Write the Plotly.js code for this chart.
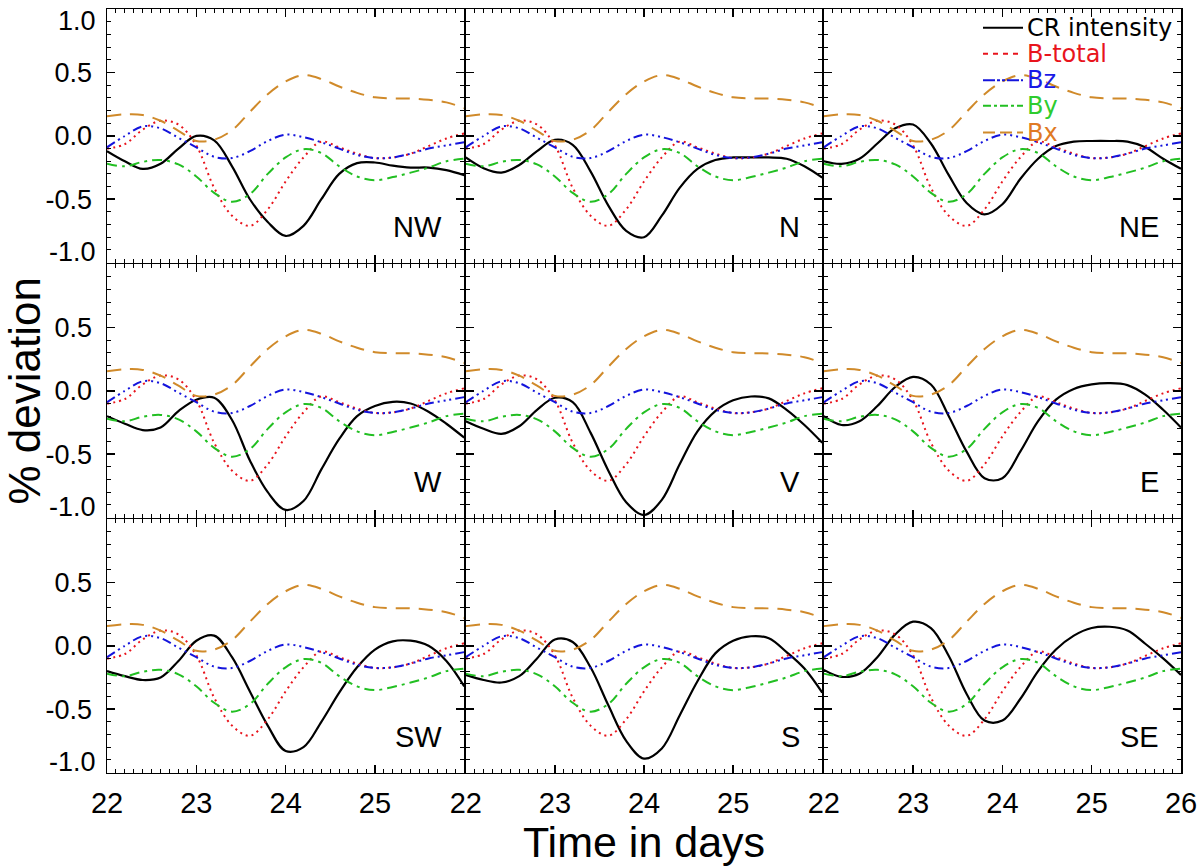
<!DOCTYPE html>
<html><head><meta charset="utf-8">
<script src="https://cdn.plot.ly/plotly-3.0.1.min.js"></script>
<style>html,body{margin:0;padding:0;background:#fff}#chart{width:1200px;height:866px}</style>
</head><body><div id="chart"></div>
<script>
// ---- data ----
const days = [22.0,22.2,22.4,22.6,22.8,23.0,23.2,23.4,23.6,23.8,24.0,24.2,24.4,24.6,24.8,25.0,25.2,25.4,25.6,25.8,26.0];

const bTotal = [-0.10,-0.065,0.05,0.12,0.09,-0.075,-0.41,-0.63,-0.71,-0.58,-0.36,-0.17,-0.045,-0.09,-0.14,-0.175,-0.17,-0.14,-0.08,-0.02,0.02];
const bz     = [-0.09,0.0,0.075,0.06,-0.015,-0.09,-0.165,-0.175,-0.12,-0.04,0.01,-0.01,-0.05,-0.10,-0.15,-0.175,-0.17,-0.14,-0.10,-0.075,-0.05];
const by     = [-0.22,-0.24,-0.205,-0.19,-0.225,-0.32,-0.45,-0.52,-0.46,-0.30,-0.17,-0.105,-0.135,-0.24,-0.32,-0.35,-0.325,-0.29,-0.25,-0.20,-0.18];
const bx     = [0.155,0.17,0.165,0.12,0.04,-0.04,-0.03,0.045,0.19,0.33,0.43,0.48,0.45,0.39,0.34,0.305,0.297,0.295,0.285,0.265,0.22];

const crNW = [-0.12,-0.20,-0.26,-0.22,-0.10,0.0,-0.035,-0.24,-0.50,-0.68,-0.79,-0.71,-0.50,-0.30,-0.215,-0.21,-0.235,-0.25,-0.25,-0.27,-0.31];
const crN  = [-0.17,-0.255,-0.29,-0.23,-0.12,-0.03,-0.07,-0.28,-0.55,-0.75,-0.80,-0.63,-0.41,-0.26,-0.19,-0.17,-0.17,-0.17,-0.18,-0.24,-0.33];
const crNE = [-0.20,-0.22,-0.18,-0.06,0.06,0.09,-0.06,-0.31,-0.53,-0.62,-0.54,-0.34,-0.18,-0.08,-0.045,-0.04,-0.04,-0.045,-0.09,-0.18,-0.26];
const crW  = [-0.20,-0.26,-0.31,-0.29,-0.16,-0.07,-0.055,-0.23,-0.55,-0.80,-0.94,-0.87,-0.62,-0.38,-0.20,-0.12,-0.087,-0.10,-0.165,-0.26,-0.37];
const crV  = [-0.24,-0.30,-0.34,-0.28,-0.15,-0.055,-0.09,-0.33,-0.63,-0.88,-0.98,-0.86,-0.58,-0.32,-0.16,-0.075,-0.045,-0.06,-0.15,-0.27,-0.41];
const crE  = [-0.20,-0.27,-0.24,-0.12,0.03,0.11,0.05,-0.20,-0.48,-0.69,-0.69,-0.48,-0.24,-0.07,0.015,0.05,0.06,0.045,-0.03,-0.15,-0.29];
const crSW = [-0.20,-0.24,-0.27,-0.25,-0.12,0.04,0.08,-0.09,-0.36,-0.63,-0.83,-0.80,-0.60,-0.37,-0.17,-0.03,0.035,0.04,0.0,-0.12,-0.32];
const crS  = [-0.23,-0.27,-0.29,-0.24,-0.10,0.05,0.03,-0.17,-0.47,-0.75,-0.89,-0.81,-0.55,-0.28,-0.06,0.04,0.075,0.06,-0.05,-0.18,-0.37];
const crSE = [-0.19,-0.245,-0.22,-0.09,0.09,0.19,0.14,-0.08,-0.38,-0.59,-0.59,-0.42,-0.20,-0.03,0.08,0.14,0.15,0.12,0.016,-0.10,-0.23];

const panelNames = ['NW','N','NE','W','V','E','SW','S','SE'];
const crSeries = [crNW,crN,crNE,crW,crV,crE,crSW,crS,crSE];
const seriesNames = ['CR intensity','B-total','Bz','By','Bx'];

const xTickVals = [22,23,24,25,26];
const xTickTextInner = ['22','23','24','25',''];
const xTickTextLast  = ['22','23','24','25','26'];
const yTickVals = [-1,-0.5,0,0.5,1];
const yTickText = ['','-0.5','0.0','0.5',''];

// ---- styles ----
const lineColors = ['#000000','#e8141c','#1414dc','#22bf22','#d08a2a'];
const textColors = ['#000000','#e8141c','#1a1ae6','#2ecc2e','#e07a24'];
const plotDash = ['solid','2px,4px','9px,4px,2px,4px,2px,4px,2px,4px','10px,5px,3px,5px','14px,9px'];
const legDash  = ['solid','5px,5px','12px,2px,3px,2px,3px,2px','8px,3px,3px,3px','12px,5px'];

const W = 1200, H = 866;
const LW = 1.5, half = LW / 2;
// panel edges in pixels; inner edges pulled in by half a line width so neighbouring frames coincide
const colPx = [[107,465-half],[465+half,823-half],[823+half,1181]];
const rowPx = [[9.3,263.3-half],[263.3+half,518.3-half],[518.3+half,772.5]];
const fontSans = 'Liberation Sans, Arial, sans-serif';

const traces = [];
const layout = {
  width: W, height: H,
  margin: {l:0,r:0,t:0,b:0},
  paper_bgcolor: '#ffffff', plot_bgcolor: '#ffffff',
  showlegend: false,
  annotations: [], shapes: []
};

for (let i = 0; i < 9; i++) {
  const r = Math.floor(i/3), c = i % 3, n = i + 1;
  const xs = n === 1 ? '' : String(n);
  const xa = 'x' + xs, ya = 'y' + xs;
  const allY = [crSeries[i], bTotal, bz, by, bx];
  allY.forEach((yv, k) => {
    traces.push({
      type: 'scatter', mode: 'lines', x: days, y: yv,
      xaxis: xa, yaxis: ya, name: seriesNames[k],
      line: {color: lineColors[k], width: k === 0 ? 2.2 : 2, dash: plotDash[k], shape: 'spline', smoothing: 1},
      hoverinfo: 'skip'
    });
  });
  const common = {
    showgrid: false, zeroline: false, showline: true, linecolor: '#000', linewidth: LW,
    mirror: 'allticks', ticks: 'inside', ticklen: 8, tickwidth: 1.5, tickcolor: '#000',
  };
  layout['xaxis' + xs] = Object.assign({}, common, {
    domain: [colPx[c][0]/W, colPx[c][1]/W], anchor: ya, range: [22,26],
    tickmode: 'array', tickvals: xTickVals, ticktext: c === 2 ? xTickTextLast : xTickTextInner,
    showticklabels: r === 2, ticklabelstandoff: 4,
    tickfont: {family: fontSans, size: 29, color: '#000'},
    minor: {ticks: 'inside', ticklen: 4, tickwidth: 1, tickcolor: '#000', dtick: 0.1, tick0: 22, showgrid: false}
  });
  layout['yaxis' + xs] = Object.assign({}, common, {
    domain: [1 - rowPx[r][1]/H, 1 - rowPx[r][0]/H], anchor: xa, range: [-1,1],
    tickmode: 'array', tickvals: yTickVals, ticktext: yTickText,
    showticklabels: c === 0, ticklabelstandoff: 8,
    tickfont: {family: fontSans, size: 27, color: '#000'},
    minor: {ticks: 'inside', ticklen: 4, tickwidth: 1, tickcolor: '#000', dtick: 0.1, tick0: -1, showgrid: false}
  });
  // panel label
  layout.annotations.push({
    text: panelNames[i], xref: xa + ' domain', yref: ya + ' domain', x: 1, y: 0,
    xanchor: 'right', yanchor: 'bottom', xshift: -20, yshift: 18, showarrow: false,
    font: {family: fontSans, size: 29, color: '#000'}
  });
  // end labels of the y axis (kept inside the panel as in the reference)
  if (c === 0) {
    layout.annotations.push({
      text: '-1.0', xref: xa + ' domain', yref: ya, x: 0, y: -1,
      xanchor: 'right', yanchor: 'bottom', xshift: -9, yshift: -6, showarrow: false,
      font: {family: fontSans, size: 27, color: '#000'}
    });
    if (r === 0) {
      layout.annotations.push({
        text: '1.0', xref: xa + ' domain', yref: ya, x: 0, y: 1,
        xanchor: 'right', yanchor: 'top', xshift: -9, yshift: 5, showarrow: false,
        font: {family: fontSans, size: 27, color: '#000'}
      });
    }
  }
}

layout.xaxis8.title = {text: 'Time in days', font: {family: fontSans, size: 43, color: '#000'}, standoff: 4};
layout.yaxis4.title = {text: '% deviation', font: {family: fontSans, size: 44, color: '#000'}, standoff: 4};

// legend drawn in the upper right panel
const legRows = [27.7, 53.7, 80.3, 105.8, 132.5];
seriesNames.forEach((nm, k) => {
  const yp = 1 - legRows[k]/H;
  layout.shapes.push({
    type: 'line', xref: 'paper', yref: 'paper', x0: 983/W, x1: 1023/W, y0: yp, y1: yp,
    line: {color: lineColors[k], width: 2, dash: legDash[k]}, layer: 'above'
  });
  layout.annotations.push({
    text: nm, xref: 'paper', yref: 'paper', x: 1025/W, y: yp, xanchor: 'left', yanchor: 'middle',
    showarrow: false, font: {family: 'DejaVu Sans, sans-serif', size: 24, color: textColors[k]}
  });
});

Plotly.newPlot('chart', traces, layout, {staticPlot: true, displayModeBar: false});
</script>
</body></html>
